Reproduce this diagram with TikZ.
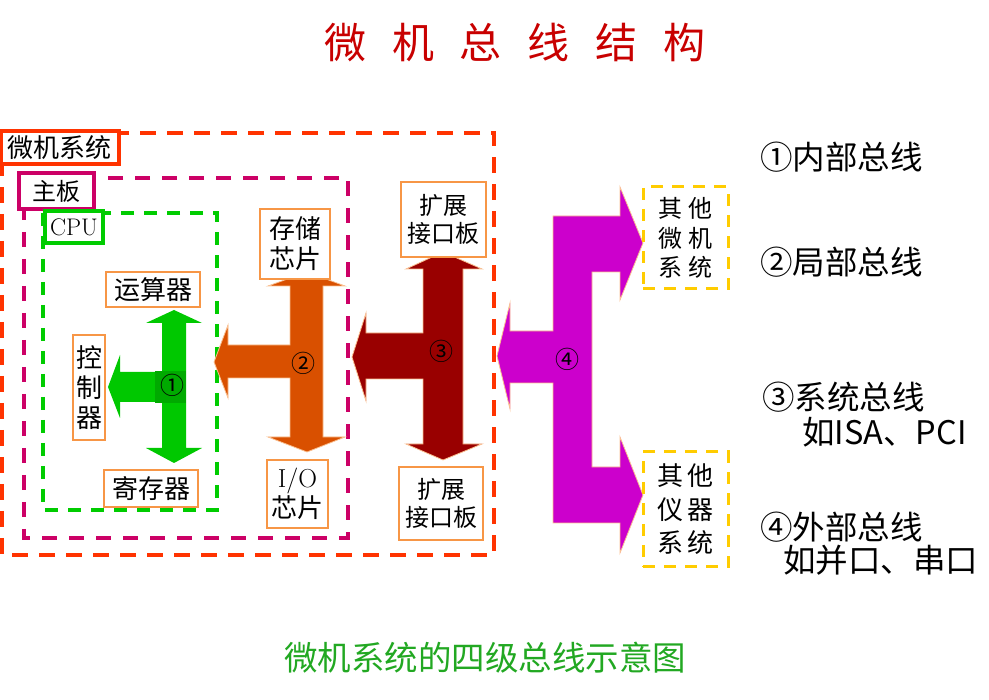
\documentclass[tikz,border=0pt]{standalone}
\usepackage{fontspec}
\newfontfamily\cjk{Noto Sans CJK SC}
\definecolor{outerred}{RGB}{255,51,0}
\definecolor{magframe}{RGB}{204,0,102}
\definecolor{grnframe}{RGB}{0,204,0}
\definecolor{boxorange}{RGB}{247,150,70}
\definecolor{yelframe}{RGB}{255,204,0}
\definecolor{arrgreen}{RGB}{0,200,0}
\definecolor{arrorange}{RGB}{217,80,0}
\definecolor{arrdark}{RGB}{153,0,0}
\definecolor{arrmag}{RGB}{204,0,204}
\definecolor{titlered}{RGB}{200,0,0}
\definecolor{capgreen}{RGB}{34,168,34}
\begin{document}
\begin{tikzpicture}[x=1pt,y=-1pt,
  lbl/.style={draw=boxorange, line width=1.2pt, fill=white, inner sep=0pt, align=center, font=\cjk\fontsize{26}{30}\selectfont},
  framelbl/.style={line width=4pt, fill=white, inner sep=0pt, align=center},
  bigarrow/.style={draw=boxorange!60, line width=0.8pt},
  numtxt/.style={font=\cjk\fontsize{24}{24}\selectfont, inner sep=0pt},
  legend/.style={anchor=west, inner sep=0pt, font=\cjk\fontsize{32.5}{32.5}\selectfont},
  ydash/.style={draw=yelframe, line width=3pt, dash pattern=on 12pt off 9pt, inner sep=0pt, align=center}
]
\useasboundingbox (0,0) rectangle (989,700);

% title
\node[text=titlered, font=\cjk\fontsize{42}{42}\selectfont, inner sep=0pt] (title) at (515,43)
  {微\hspace{26pt}机\hspace{26pt}总\hspace{26pt}线\hspace{26pt}结\hspace{26pt}构};

% dashed frames
\draw[outerred, line width=3.2pt, dash pattern=on 16pt off 11pt] (2,133) rectangle (494,555);
\draw[magframe, line width=3.6pt, dash pattern=on 15pt off 12pt] (24,178) rectangle (348,538);
\draw[grnframe, line width=3.4pt, dash pattern=on 13pt off 10pt] (43,213) rectangle (217,510);

% frame labels
\node[framelbl, draw=outerred, minimum width=118pt, minimum height=33pt, font=\cjk\fontsize{26}{26}\selectfont] (wjxt) at (60,147.5) {微机系统};
\node[framelbl, draw=magframe, minimum width=75pt, minimum height=36pt, font=\cjk\fontsize{24}{24}\selectfont] (zb) at (56.5,191) {主板};
\node[framelbl, draw=grnframe, minimum width=58pt, minimum height=32pt, font=\fontsize{24}{24}\selectfont] (cpu) at (74,227) {CPU};

% green arrow (1)
\fill[arrgreen] (174,310) -- (202,323) -- (186,323) -- (186,448) -- (202,448) -- (174,463) -- (146,448) -- (162,448)
  -- (162,402) -- (120,402) -- (120,418) -- (108,387) -- (120,355) -- (120,372) -- (162,372) -- (162,323) -- (146,323) -- cycle;
\fill[arrgreen!85!black] (155,371) rectangle (186,403);
\node[numtxt] (n1) at (172,385) {①};

% orange arrow (2)
\filldraw[bigarrow, fill=arrorange] (307,272) -- (345,286) -- (323,286) -- (323,437) -- (345,437) -- (307,452) -- (268,437) -- (290,437)
  -- (290,378) -- (228,378) -- (228,398) -- (214,362) -- (228,325) -- (228,345) -- (290,345) -- (290,286) -- (268,286) -- cycle;
\node[numtxt] (n2) at (303,363) {②};

% dark red arrow (3)
\filldraw[bigarrow, fill=arrdark] (443,252) -- (482,269) -- (463,269) -- (463,444) -- (482,444) -- (443,460) -- (406,444) -- (423,444)
  -- (423,379) -- (366,379) -- (366,401) -- (352,357) -- (366,313) -- (366,333) -- (423,333) -- (423,269) -- (406,269) -- cycle;
\node[numtxt] (n3) at (441,351) {③};

% magenta arrow (4)
\filldraw[bigarrow, fill=arrmag] (553,216) -- (620,216) -- (620,187) -- (643,243) -- (620,300) -- (620,272) -- (592,272)
  -- (592,467) -- (620,467) -- (620,437) -- (643,495) -- (620,553) -- (620,523) -- (553,523)
  -- (553,383) -- (510,383) -- (510,409) -- (497,356) -- (510,303) -- (510,331) -- (553,331) -- cycle;
\node[numtxt] (n4) at (567,359) {④};

% component labels
\node[lbl, minimum width=94pt, minimum height=35pt] (ysq) at (153,289.5) {运算器};
\node[lbl, minimum width=32pt, minimum height=105pt] (kzq) at (89,387.5) {控\\制\\器};
\node[lbl, minimum width=94pt, minimum height=37pt] (jcq) at (151,488.5) {寄存器};
\node[lbl, minimum width=70pt, minimum height=70pt] (cc) at (295,244) {存储\\芯片};
\node[lbl, minimum width=61pt, minimum height=68pt] (io) at (297.5,494) {{\normalfont I/O}\\芯片};
\node[lbl, minimum width=85pt, minimum height=75pt, font=\cjk\fontsize{24}{28}\selectfont] (kz1) at (443.5,219.5) {扩展\\接口板};
\node[lbl, minimum width=84pt, minimum height=73pt, font=\cjk\fontsize{24}{28}\selectfont] (kz2) at (441,503.5) {扩展\\接口板};

% external systems
\node[ydash, minimum width=85pt, minimum height=102pt, font=\cjk\fontsize{24}{29.5}\selectfont] (qtwj) at (685.5,238)
  {其\hspace{6pt}他\\微\hspace{6pt}机\\系\hspace{6pt}统};
\node[ydash, minimum width=85pt, minimum height=115pt, font=\cjk\fontsize{26}{33.5}\selectfont] (qtyq) at (685.5,509.5)
  {其\hspace{5pt}他\\仪\hspace{5pt}器\\系\hspace{5pt}统};

% legend
\node[legend] (l1) at (760,157) {①内部总线};
\node[legend] (l2) at (760,262) {②局部总线};
\node[legend] (l3) at (762,397) {③系统总线};
\node[legend] (l3b) at (802,432) {如ISA、PCI};
\node[legend] (l4) at (760,527) {④外部总线};
\node[legend] (l4b) at (783,560) {如并口、串口};

% caption
\node[text=capgreen, font=\cjk\fontsize{33.5}{33.5}\selectfont, inner sep=0pt] (cap) at (485,658) {微机系统的四级总线示意图};
\end{tikzpicture}
\end{document}
